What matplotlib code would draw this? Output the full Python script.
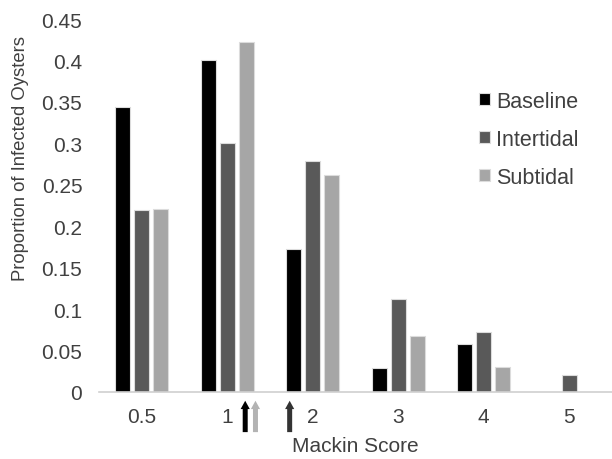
import numpy as np
import matplotlib
matplotlib.use('Agg')
import matplotlib.pyplot as plt
from matplotlib import transforms

plt.rcParams['font.family'] = ['Liberation Sans', 'DejaVu Sans']

categories = ['0.5', '1', '2', '3', '4', '5']
baseline = [0.344, 0.400, 0.173, 0.029, 0.058, 0.0]
intertidal = [0.219, 0.300, 0.279, 0.112, 0.072, 0.021]
subtidal = [0.221, 0.422, 0.262, 0.067, 0.030, 0.0]
series_names = ['Baseline', 'Intertidal', 'Subtidal']
colors = ['#000000', '#595959', '#a6a6a6']

# arrows below the axis (position on category index scale)
arrow_x = [1.21, 1.33, 1.73]
arrow_colors = ['#000000', '#b3b3b3', '#333333']

fig = plt.figure(figsize=(6.12, 4.6), dpi=100)
ax = fig.add_axes([99 / 612, 1 - 393 / 460, 1 - 99 / 612, 373 / 460])

x = np.arange(len(categories))
width = 0.18
offsets = [-0.222, 0.0, 0.222]
for vals, off, c, name in zip([baseline, intertidal, subtidal], offsets, colors, series_names):
    ax.bar(x + off, vals, width, color=c, edgecolor='#dcdcdc', linewidth=0.8, label=name)

ax.set_xlim(-0.5, len(categories) - 0.5)
ax.set_ylim(0, 0.45)
ax.set_yticks(np.arange(0, 0.451, 0.05))
ax.set_yticklabels(['0', '0.05', '0.1', '0.15', '0.2', '0.25', '0.3', '0.35', '0.4', '0.45'])
ax.set_xticks(x)
ax.set_xticklabels(categories)
ax.tick_params(axis='both', length=0, labelsize=15, labelcolor='#404040')
ax.tick_params(axis='y', pad=12)
ax.tick_params(axis='x', pad=11)
for s in ['top', 'right', 'left']:
    ax.spines[s].set_visible(False)
ax.spines['bottom'].set_color('#d0d0d0')
ax.spines['bottom'].set_linewidth(1.2)

ax.set_ylabel('Proportion of Infected Oysters', fontsize=13.3, color='#404040')
ax.yaxis.set_label_coords(-0.137, 0.63)
ax.set_xlabel('Mackin Score', fontsize=15, color='#404040', labelpad=7)

trans = transforms.blended_transform_factory(ax.transData, ax.transAxes)
for xa, c in zip(arrow_x, arrow_colors):
    ax.annotate('', xy=(xa, -0.016), xytext=(xa, -0.115), xycoords=trans, textcoords=trans,
                arrowprops=dict(arrowstyle='simple,head_length=0.5,head_width=0.55,tail_width=0.3',
                                mutation_scale=12, color=c, lw=0),
                annotation_clip=False)

leg = ax.legend(loc='upper left', bbox_to_anchor=(479 / 612, 1 - 92 / 460),
                bbox_transform=fig.transFigure, frameon=False, fontsize=15.5,
                handlelength=0.5, handleheight=0.5, handletextpad=0.3,
                labelspacing=0.78, borderpad=0, borderaxespad=0)
for t in leg.get_texts():
    t.set_color('#404040')

fig.savefig('out.png', dpi=100)
